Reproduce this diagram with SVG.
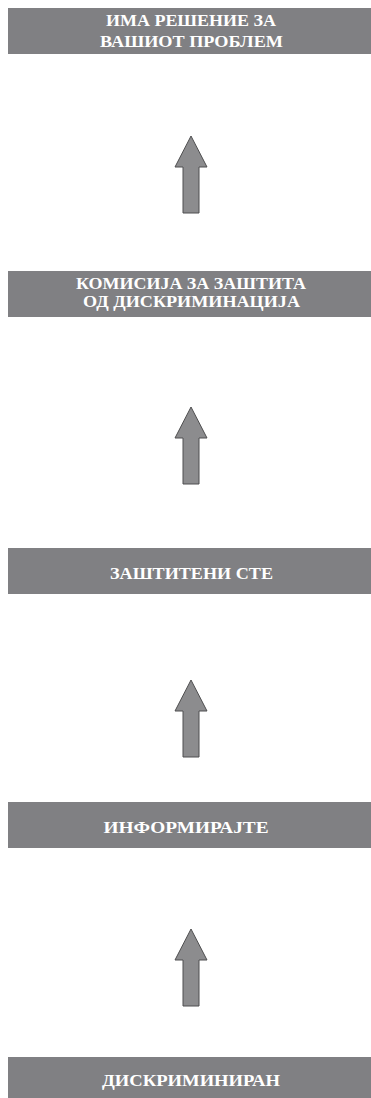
<svg xmlns="http://www.w3.org/2000/svg" width="371" height="1098" viewBox="0 0 371 1098">
<defs>
<style>
.box{fill:#808083;}
.lbl{fill:#ffffff;font-family:"Liberation Serif","DejaVu Serif",serif;font-weight:bold;font-size:16.5px;text-anchor:middle;}
.arr{fill:#8c8c8e;stroke:#4f4f50;stroke-width:1;stroke-linejoin:miter;}
</style>
<path id="up" d="M0,0 L16,31 L8,31 L8,77 L-8,77 L-8,31 L-16,31 Z"/>
</defs>
<g id="n1">
<rect class="box" x="8" y="8" width="363" height="46"/>
<text class="lbl" x="191" y="26" textLength="170" lengthAdjust="spacingAndGlyphs">ИМА РЕШЕНИЕ ЗА</text>
<text class="lbl" x="191.5" y="46.5" textLength="183" lengthAdjust="spacingAndGlyphs">ВАШИОТ ПРОБЛЕМ</text>
</g>
<g id="n2">
<rect class="box" x="8" y="271" width="363" height="46"/>
<text class="lbl" x="191" y="289" textLength="230" lengthAdjust="spacingAndGlyphs">КОМИСИЈА ЗА ЗАШТИТА</text>
<text class="lbl" x="191.5" y="307" textLength="217" lengthAdjust="spacingAndGlyphs">ОД ДИСКРИМИНАЦИЈА</text>
</g>
<g id="n3">
<rect class="box" x="8" y="548" width="363" height="46"/>
<text class="lbl" x="191.5" y="579" textLength="163" lengthAdjust="spacingAndGlyphs">ЗАШТИТЕНИ СТЕ</text>
</g>
<g id="n4">
<rect class="box" x="8" y="802" width="363" height="46"/>
<text class="lbl" x="186" y="833" textLength="165" lengthAdjust="spacingAndGlyphs">ИНФОРМИРАЈТЕ</text>
</g>
<g id="n5">
<rect class="box" x="8" y="1057" width="363" height="46"/>
<text class="lbl" x="191" y="1086" textLength="178" lengthAdjust="spacingAndGlyphs">ДИСКРИМИНИРАН</text>
</g>
<g id="connectors">
<use href="#up" class="arr" transform="translate(191,136)"/>
<use href="#up" class="arr" transform="translate(191,407)"/>
<use href="#up" class="arr" transform="translate(191,680)"/>
<use href="#up" class="arr" transform="translate(191,929)"/>
</g>
</svg>
